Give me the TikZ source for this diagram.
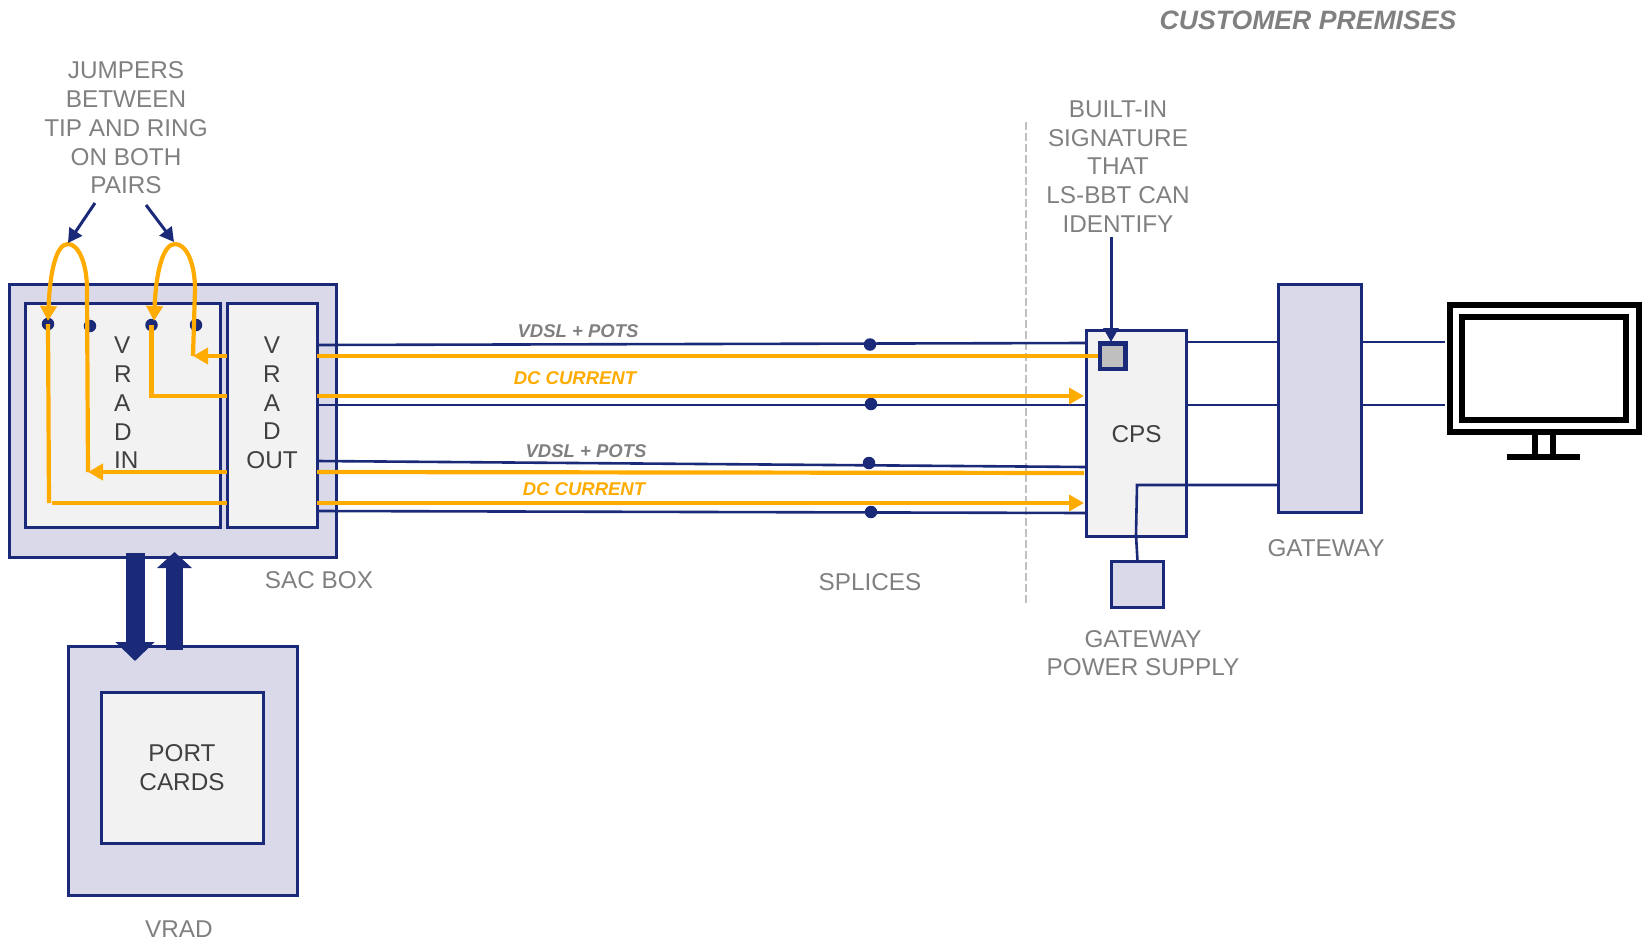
\documentclass[tikz,border=0pt]{standalone}
\usepackage{fontspec}
\setmainfont{Liberation Sans}
\usetikzlibrary{arrows.meta}
\definecolor{VNavy}{HTML}{1B2A78}
\definecolor{VOrange}{HTML}{FFAB00}
\definecolor{VLilac}{HTML}{D9D9EA}
\definecolor{VPale}{HTML}{F2F2F2}
\definecolor{VLabel}{HTML}{808080}
\definecolor{VText}{HTML}{404040}
\tikzset{
  box/.style={draw=VNavy,line width=3pt,rectangle,outer sep=0pt,inner sep=0pt},
  lilacbox/.style={box,fill=VLilac},
  palebox/.style={box,fill=VPale,text=VText,font=\fontsize{24.3}{28.7}\selectfont,align=center},
  label/.style={text=VLabel,align=center,font=\fontsize{24.3}{28.7}\selectfont},
  wirelabel/.style={font=\fontsize{18.5}{22}\selectfont\bfseries\itshape},
  navywire/.style={draw=VNavy,line width=2.6pt},
  dcwire/.style={draw=VOrange,line width=4.2pt},
  dcarrow/.style={dcwire,-{Triangle[length=15pt,width=16pt]}},
  pointer/.style={draw=VNavy,line width=3pt,-{Triangle[length=14pt,width=15pt]}},
  bigarrow/.style={draw=VNavy,-{Triangle[length=19pt,width=38pt]}},
  dot/.style={circle,fill=VNavy,minimum size=12.5pt,inner sep=0pt},
}

\begin{document}
\begin{tikzpicture}[x=1pt,y=-1pt]
  \useasboundingbox (0,0) rectangle (1642,940);

  % sac box
  \node[lilacbox,minimum width=327pt,minimum height=273pt] (sac) at (172.5,420.5) {};
  \node[palebox,minimum width=195pt,minimum height=224pt] (vradin) at (122.5,415) {};
  \node[text=VText,align=left,font=\fontsize{24.3}{28.7}\selectfont,inner sep=0pt,anchor=west] (vradintext) at (114,403) {V\\R\\A\\D\\IN};
  \node[palebox,minimum width=90pt,minimum height=224pt] (vradout) at (272,415) {};
  \node[text=VText,align=center,font=\fontsize{24.3}{28.7}\selectfont,inner sep=0pt] (vradouttext) at (272,403) {V\\R\\A\\D\\OUT};
  \node[dot] (p1) at (48,324) {};
  \node[dot] (p2) at (90,326) {};
  \node[dot] (p3) at (151.5,325) {};
  \node[dot] (p4) at (196,325) {};

  % customer side
  \node[palebox,minimum width=100pt,minimum height=206pt] (cps) at (1136.5,433) {};
  \node[text=VText,font=\fontsize{24.3}{28.7}\selectfont] (cpstext) at (1136.5,434) {CPS};
  \node[lilacbox,minimum width=83pt,minimum height=228pt] (gateway) at (1319.5,398) {};
  \node[lilacbox,minimum width=52pt,minimum height=46pt] (power) at (1137.5,584) {};
  \draw[VLabel!50,line width=1.2pt,dash pattern=on 8pt off 3pt] (1026,122) -- (1026,603);

  % navy pairs
  \draw[navywire] (vradout.east |- 0,345) -- (cps.west |- 0,343);
  \draw[navywire] (vradout.east |- 0,405) -- (cps.west |- 0,405);
  \draw[navywire] (vradout.east |- 0,461) -- (cps.west |- 0,467);
  \draw[navywire] (vradout.east |- 0,511) -- (cps.west |- 0,513);
  \node[dot] (s1) at (870,344.5) {};
  \node[dot] (s2) at (871,404) {};
  \node[dot] (s3) at (869,463) {};
  \node[dot] (s4) at (871,512) {};

  \draw[navywire] (cps.east |- 0,342) -- (gateway.west |- 0,342);
  \draw[navywire] (cps.east |- 0,405) -- (gateway.west |- 0,405);
  \draw[navywire] (gateway.west |- 0,485) -- (1137,485) -- (1136,535) -- (power.north);

  % chip on the cps
  \node[draw=VNavy,line width=4.5pt,fill=gray!50,minimum size=25.5pt,inner sep=0pt,outer sep=2pt] (chip) at (1112.5,356) {};

  % dc current
  \draw[dcwire] (vradout.east |- 0,356) -- (chip.west);
  \draw[dcarrow] (vradout.east |- 0,396) -- (1084,396);
  \draw[dcwire] (vradout.east |- 0,472) -- (1084,473);
  \draw[dcarrow] (vradout.east |- 0,503) -- (1084,503);

  \draw[dcarrow] (vradout.west |- 0,356) -- (193,356);
  \draw[dcarrow] (193,356) -- (195,290) .. controls (195,262) and (186,244) .. (175,244)
    .. controls (163,244) and (156,272) .. (154,321);
  \draw[dcwire] (vradout.west |- 0,396) -| (p3.center);
  \draw[dcarrow] (vradout.west |- 0,472) -- (88,472);
  \draw[dcarrow] (88,472) -- (87,290) .. controls (87,262) and (78,244) .. (68,244)
    .. controls (56,244) and (50,272) .. (48,321);
  \draw[dcwire] (vradout.west |- 0,503) -- (52,503);
  \draw[dcwire] (49,503) -- (p1.center);

  % labels
  \node[label] (jumpers) at (126,128) {JUMPERS\\BETWEEN\\TIP AND RING\\ON BOTH\\PAIRS};
  \coordinate (j1) at (95,203);
  \coordinate (j2) at (146,205);
  \draw[pointer] (j1) -- (68,243);
  \draw[pointer] (j2) -- (174,242);
  \node[label] (signature) at (1118,166.5) {BUILT-IN\\SIGNATURE\\THAT\\LS-BBT CAN\\IDENTIFY};
  \coordinate (chiptop) at (1111,237);
  \draw[pointer] (chiptop) -- (1111,342);
  \node[text=VLabel,font=\fontsize{26.6}{30}\selectfont\bfseries\itshape] (premises) at (1308,20.5) {CUSTOMER PREMISES};
  \node[wirelabel,text=VLabel] (pots1) at (578,331) {VDSL + POTS};
  \node[wirelabel,text=VOrange] (dc1) at (575,378) {DC CURRENT};
  \node[wirelabel,text=VLabel] (pots2) at (586,451) {VDSL + POTS};
  \node[wirelabel,text=VOrange] (dc2) at (584,489) {DC CURRENT};
  \node[label] (saclabel) at (319,580) {SAC BOX};
  \node[label] (splices) at (870,582) {SPLICES};
  \node[label] (gwlabel) at (1326,548) {GATEWAY};
  \node[label] (powerlabel) at (1143,653) {GATEWAY\\POWER SUPPLY};

  % monitor
  \draw[black,line width=6pt] (1450,305) rectangle (1639,432);
  \draw[black,line width=6pt] (1462,317) rectangle (1626,420);
  \draw[black,line width=6pt] (1535,432) -- (1535,457);
  \draw[black,line width=6pt] (1553,432) -- (1553,457);
  \draw[black,line width=6pt] (1507,457) -- (1580,457);
  \coordinate (m1) at (1445,342);
  \coordinate (m2) at (1445,405);
  \draw[navywire] (gateway.east |- m1) -- (m1);
  \draw[navywire] (gateway.east |- m2) -- (m2);

  % vrad
  \node[lilacbox,minimum width=229pt,minimum height=249pt] (vrad) at (182.5,770.5) {};
  \node[palebox,minimum width=162pt,minimum height=151pt] (cards) at (182,767.5) {PORT\\CARDS};
  \node[label] (vradlabel) at (179,929) {VRAD};
  \draw[bigarrow,line width=19pt] (135,553) -- (135,661);
  \draw[bigarrow,line width=17pt,-{Triangle[length=16pt,width=34pt]}] (174.5,650) -- (174.5,552);
\end{tikzpicture}
\end{document}
